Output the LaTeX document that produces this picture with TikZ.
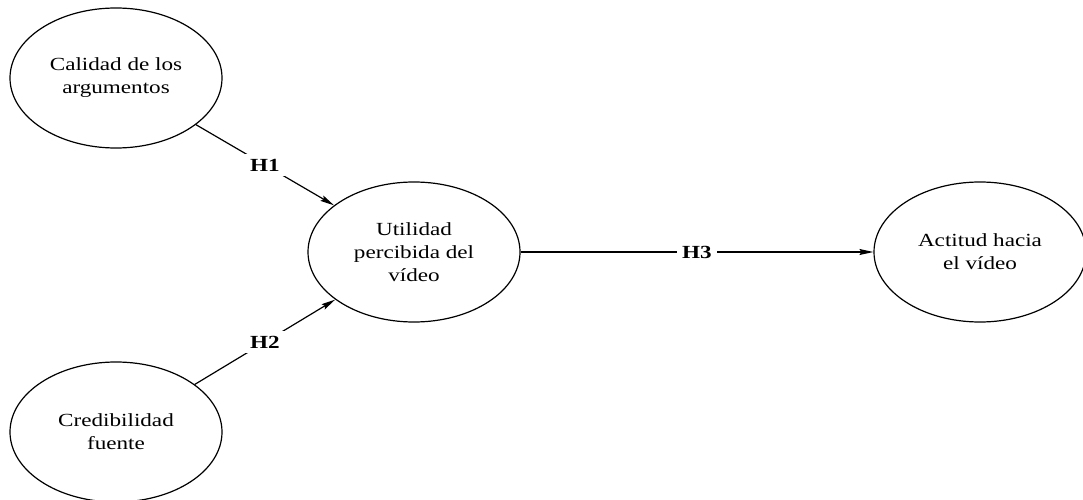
\documentclass[tikz,border=0pt]{standalone}
\usepackage{fontspec}
\setmainfont{Liberation Serif}[FakeStretch=1.25]
\usepackage{tikz}
\usetikzlibrary{arrows.meta,shapes.geometric}

\begin{document}
\begin{tikzpicture}[x=1pt, y=-1pt,
    constructo/.style={draw, ellipse, line width=1.2pt, minimum width=212pt, minimum height=140pt, inner sep=0pt, align=center, font=\fontsize{18.5}{23}\selectfont},
    hipotesis/.style={fill=white, inner sep=5pt, font=\bfseries\fontsize{18.5}{20}\selectfont},
    flecha/.style={line width=1.2pt, -{Stealth[length=14pt, width=6pt, inset=2pt]}}]
    \useasboundingbox (0,0) rectangle (1083,500);
    \node[constructo] (calidad) at (116,78) {Calidad de los\\argumentos};
    \node[constructo] (credibilidad) at (116,432) {Credibilidad\\fuente};
    \node[constructo] (utilidad) at (414,252) {Utilidad\\percibida del\\vídeo};
    \node[constructo] (actitud) at (980,252) {Actitud hacia\\el vídeo};
    \draw[flecha] (calidad) -- node[hipotesis]{H1} (utilidad);
    \draw[flecha] (credibilidad) -- node[hipotesis]{H2} (utilidad);
    \draw[flecha] (utilidad) -- node[hipotesis]{H3} (actitud);
\end{tikzpicture}
\end{document}
